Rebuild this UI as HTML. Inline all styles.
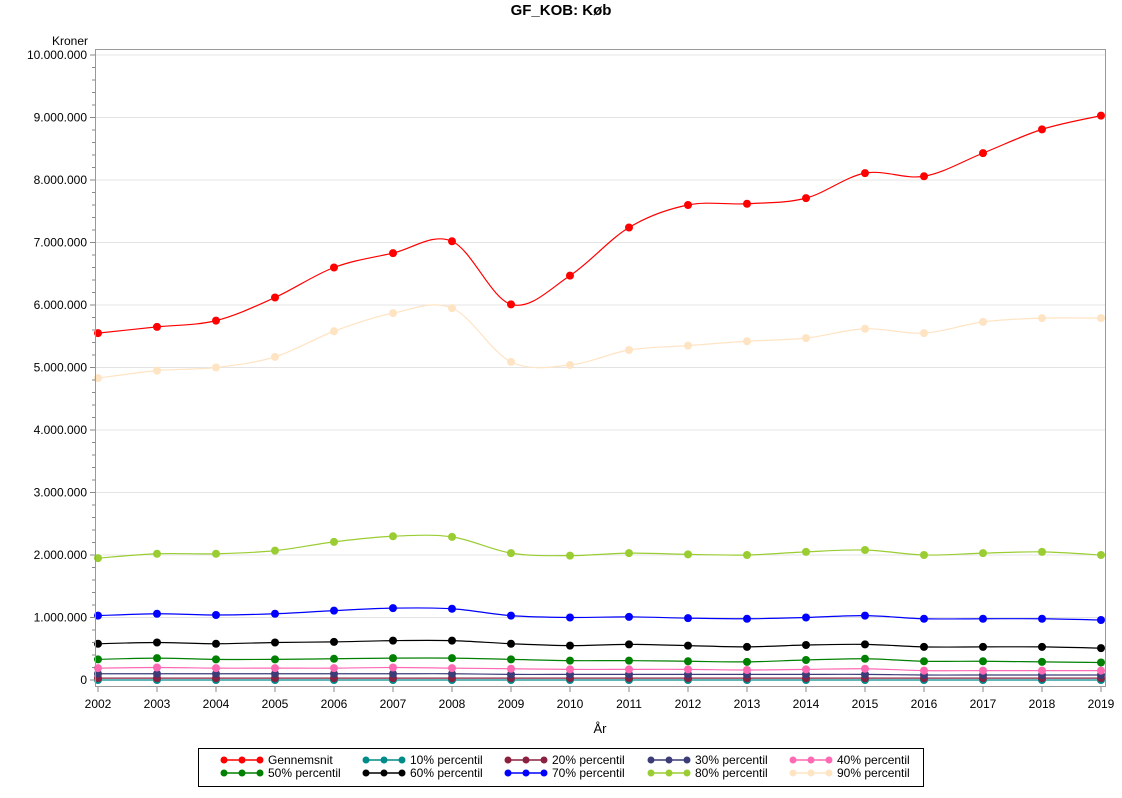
<!DOCTYPE html>
<html><head><meta charset="utf-8"><style>
html,body{margin:0;padding:0;background:#fff;}
svg text{font-family:"Liberation Sans",Arial,sans-serif;}
</style></head><body>
<svg id="c" width="1122" height="793" xmlns="http://www.w3.org/2000/svg">
<rect width="1122" height="793" fill="#fff"/>
<text x="561" y="15" text-anchor="middle" font-size="15" font-weight="bold">GF_KOB: Køb</text>
<text x="88" y="45" text-anchor="end" font-size="12">Kroner</text>
<text x="600" y="733" text-anchor="middle" font-size="13">År</text>
<g id="grid"></g>
<g id="series"></g>
<rect x="95.5" y="49.5" width="1010" height="637" fill="none" stroke="#999" stroke-width="1"/>
<g id="axes" font-size="12"></g>
<rect x="198.5" y="748.5" width="725" height="38" fill="#fff" stroke="#000"/>
<g id="legend" font-size="12"></g>
</svg>
<script>
const NS="http://www.w3.org/2000/svg";
function el(t,a,p,txt){const e=document.createElementNS(NS,t);for(const k in a)e.setAttribute(k,a[k]);if(txt!==undefined)e.textContent=txt;p.appendChild(e);return e;}
const X=y=>98+(y-2002)*59.0, Y=v=>680-v*62.5;
const grid=document.getElementById('grid'),axes=document.getElementById('axes');
const labs=["0","1.000.000","2.000.000","3.000.000","4.000.000","5.000.000","6.000.000","7.000.000","8.000.000","9.000.000","10.000.000"];
for(let i=0;i<=10;i++){const y=Y(i);
 if(i>0)el('line',{x1:96,x2:1105,y1:y,y2:y,stroke:'#e4e4e4'},grid);
 el('line',{x1:90,x2:95,y1:y,y2:y,stroke:'#888'},axes);
 el('text',{x:87,y:y+4,'text-anchor':'end'},axes,labs[i]);
 if(i<10)for(let j=1;j<5;j++){const yy=Y(i+j*0.2);el('line',{x1:92,x2:95,y1:yy,y2:yy,stroke:'#888'},axes);}
}
for(let yr=2002;yr<=2019;yr++){const x=X(yr);el('line',{x1:x,x2:x,y1:687,y2:692,stroke:'#888'},axes);el('text',{x:x,y:708,'text-anchor':'middle'},axes,yr);}
const S=[
["Gennemsnit","#ff0000",[5.55,5.65,5.75,6.12,6.6,6.83,7.02,6.01,6.47,7.24,7.6,7.62,7.71,8.11,8.06,8.43,8.81,9.03]],
["10% percentil","#008b8b",Array(18).fill(0.0)],
["20% percentil","#8b2040",Array(18).fill(0.03)],
["30% percentil","#3c3c78",[0.1,0.1,0.1,0.1,0.1,0.1,0.1,0.09,0.09,0.09,0.09,0.09,0.09,0.09,0.08,0.08,0.08,0.08]],
["40% percentil","#ff69b4",[0.19,0.2,0.19,0.19,0.19,0.2,0.19,0.18,0.17,0.17,0.17,0.16,0.17,0.18,0.15,0.15,0.15,0.15]],
["50% percentil","#008000",[0.33,0.35,0.33,0.33,0.34,0.35,0.35,0.33,0.31,0.31,0.3,0.29,0.32,0.34,0.3,0.3,0.29,0.28]],
["60% percentil","#000000",[0.58,0.6,0.58,0.6,0.61,0.63,0.63,0.58,0.55,0.57,0.55,0.53,0.56,0.57,0.53,0.53,0.53,0.51]],
["70% percentil","#0000ff",[1.03,1.06,1.04,1.06,1.11,1.15,1.14,1.03,1.0,1.01,0.99,0.98,1.0,1.03,0.98,0.98,0.98,0.96]],
["80% percentil","#9acd32",[1.95,2.02,2.02,2.07,2.21,2.3,2.29,2.03,1.99,2.03,2.01,2.0,2.05,2.08,2.0,2.03,2.05,2.0]],
["90% percentil","#ffe4c4",[4.83,4.95,5.0,5.17,5.58,5.87,5.95,5.09,5.04,5.28,5.35,5.42,5.47,5.62,5.55,5.73,5.79,5.79]]];
const g=document.getElementById('series');
const draw=[1,2,3,4,5,6,7,8,9,0];
for(const i of draw){const [n,c,d]=S[i];const p=d.map((v,k)=>[X(2002+k),Y(v)]);
 let s=`M${p[0][0]},${p[0][1]}`;
 for(let k=0;k<p.length-1;k++){const p0=p[Math.max(0,k-1)],p1=p[k],p2=p[k+1],p3=p[Math.min(p.length-1,k+2)];
  s+=` C${p1[0]+(p2[0]-p0[0])/6},${p1[1]+(p2[1]-p0[1])/6} ${p2[0]-(p3[0]-p1[0])/6},${p2[1]-(p3[1]-p1[1])/6} ${p2[0]},${p2[1]}`;}
 el('path',{d:s,fill:'none',stroke:c,'stroke-width':1.2},g);
 p.forEach(q=>el('circle',{cx:q[0],cy:q[1],r:4,fill:c},g));
}
const L=document.getElementById('legend');
const cols=[224,366,508,651,793];
S.forEach(([n,c],i)=>{const x=cols[i%5],y=i<5?760:773;
 el('line',{x1:x,x2:x+36,y1:y,y2:y,stroke:c,'stroke-width':1.5},L);
 [0,18,36].forEach(o=>el('circle',{cx:x+o,cy:y,r:3.5,fill:c},L));
 el('text',{x:x+44,y:y+4},L,n);});
</script>
</body></html>
